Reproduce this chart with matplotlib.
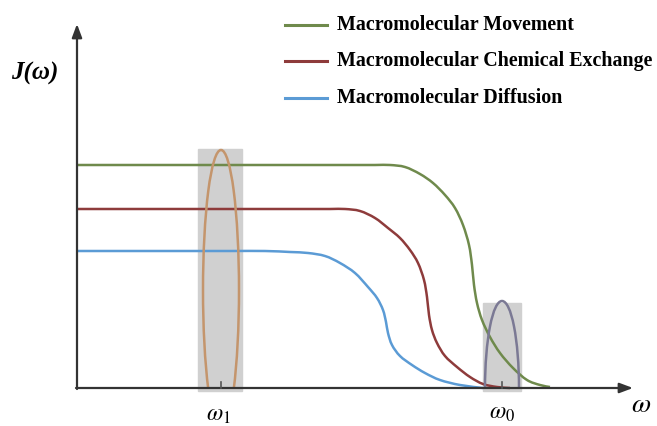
import numpy as np
import matplotlib.pyplot as plt
from matplotlib.patches import Rectangle, Ellipse, PathPatch
from matplotlib.path import Path

plt.rcParams['mathtext.fontset'] = 'stix'

# curve points: x position, J value (height above the axis)
green_x = [77, 130, 180, 230, 280, 320, 350, 375, 390, 405, 420, 433, 445, 455, 463, 469,
           472, 474, 477, 482, 490, 500, 513, 527, 540, 550]
green_j = [223, 223, 223, 223, 223, 223, 223, 223, 223, 221, 214, 205, 193, 180, 163, 143,
           123, 103, 85, 68, 51, 35, 20, 8, 3, 1]
red_x = [77, 130, 180, 230, 270, 305, 330, 345, 360, 375, 388, 400, 410, 418, 424, 427,
         429, 432, 437, 445, 457, 470, 483, 497, 510]
red_j = [179, 179, 179, 179, 179, 179, 179, 179, 177, 170, 160, 150, 138, 125, 108, 91,
         73, 58, 45, 32, 21, 11, 4, 1, 0]
blue_x = [77, 130, 180, 230, 265, 290, 308, 325, 340, 355, 368, 377, 383, 386, 388, 392,
          400, 412, 425, 440, 460, 483]
blue_j = [137, 137, 137, 137, 137, 136, 135, 132, 125, 115, 101, 90, 78, 66, 55, 43,
          32, 23, 15, 8, 3, 0]

labels = ["Macromolecular Movement", "Macromolecular Chemical Exchange", "Macromolecular Diffusion"]
colors = ["#6f8a4c", "#8e3b3b", "#5b9bd5"]

# the two resonance peaks: centre, half width, height
w1_pos, w1_half, w1_top = 221, 18, 238
w0_pos, w0_half, w0_top = 502, 17, 87


def smooth_path(xs, ys):
    # Catmull-Rom style bezier through the given points (drawing only)
    p = np.column_stack([xs, ys]).astype(float)
    verts = [p[0]]
    codes = [Path.MOVETO]
    for i in range(len(p) - 1):
        p0 = p[max(i - 1, 0)]
        p1, p2 = p[i], p[i + 1]
        p3 = p[min(i + 2, len(p) - 1)]
        verts += [p1 + (p2 - p0) / 6, p2 - (p3 - p1) / 6, p2]
        codes += [Path.CURVE4] * 3
    return Path(verts, codes)


fig = plt.figure(figsize=(6.57, 4.26), dpi=100)
ax = fig.add_axes([0, 0, 1, 1])
ax.set_xlim(0, 657)
ax.set_ylim(-38, 388)
ax.axis("off")

# grey bands and peaks
ax.add_patch(Rectangle((w1_pos - 23, -3), 44, w1_top + 4, color="#d0d0d0", zorder=1))
ax.add_patch(Rectangle((w0_pos - 19, -3), 38, w0_top + 1, color="#d0d0d0", zorder=1))
e1 = Ellipse((w1_pos, 98), 2 * w1_half, 2 * (w1_top - 98), fill=False,
             ec="#c4956c", lw=1.8, zorder=4)
e0 = Ellipse((w0_pos, 0), 2 * w0_half, 2 * w0_top, fill=False,
             ec="#7b7994", lw=1.8, zorder=4)
ax.add_patch(e1)
ax.add_patch(e0)
e1.set_clip_path(Rectangle((0, 0), 657, 400, transform=ax.transData))
e0.set_clip_path(Rectangle((0, 0), 657, 400, transform=ax.transData))

for xs, js, c in zip([green_x, red_x, blue_x], [green_j, red_j, blue_j], colors):
    ax.add_patch(PathPatch(smooth_path(xs, js), fill=False, ec=c, lw=1.8, zorder=3))

# axes with arrows
arrow = dict(arrowstyle="-|>,head_length=0.8,head_width=0.3", color="#333333", lw=1.6,
             shrinkA=0, shrinkB=0)
ax.annotate("", xy=(77, 364), xytext=(77, -1), arrowprops=arrow, zorder=5)
ax.annotate("", xy=(633, 0), xytext=(76, 0), arrowprops=arrow, zorder=5)
for p in [w1_pos, w0_pos]:
    ax.plot([p, p], [0, 6], color="#555555", lw=1.2, zorder=5)

ax.text(11, 315, "J(ω)", family="Liberation Serif", weight="bold", style="italic",
        fontsize=18, va="center", ha="left")
ax.text(641, -16, r"$\omega$", fontsize=20, va="center", ha="center")
ax.text(w1_pos - 3, -26, r"$\omega_1$", fontsize=17, va="center", ha="center")
ax.text(w0_pos, -24, r"$\omega_0$", fontsize=17, va="center", ha="center")

# legend
leg_y = [363, 327, 290]
for lab, c, y in zip(labels, colors, leg_y):
    ax.plot([285, 327], [y, y], color=c, lw=2.2)
    ax.text(337, y, lab, family="Liberation Serif", weight="bold", fontsize=14.4,
            va="center", ha="left")

fig.savefig("out.png", dpi=100)
